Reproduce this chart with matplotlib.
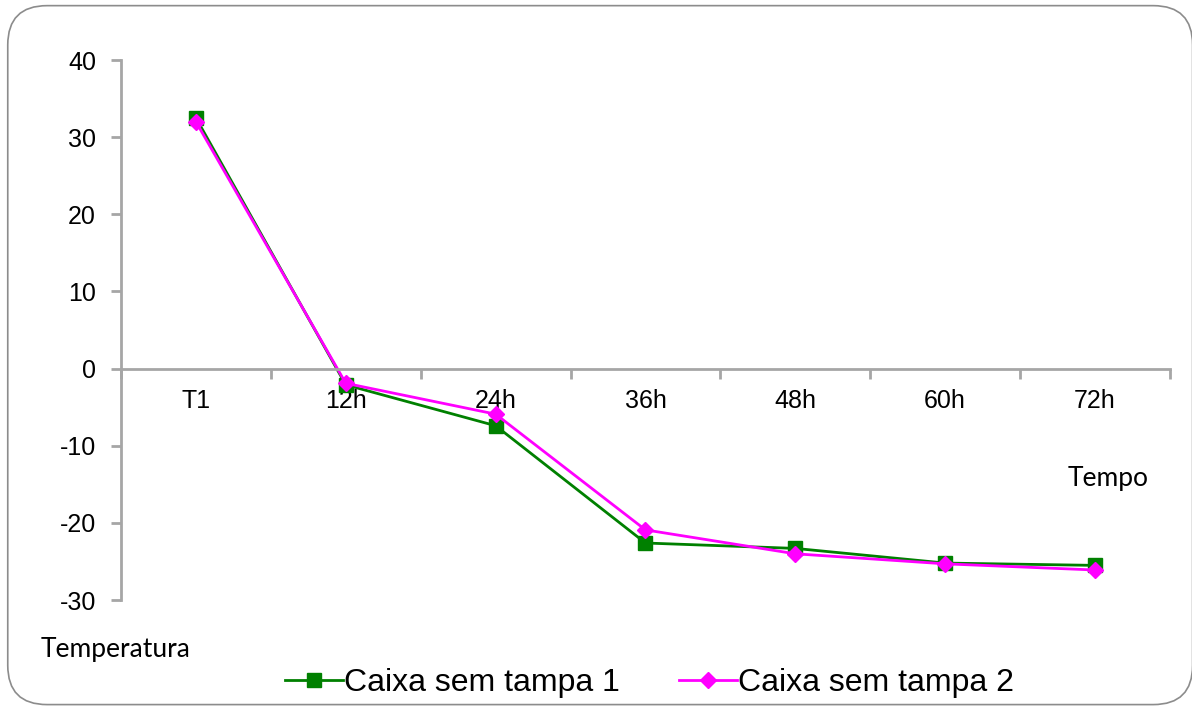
import matplotlib.pyplot as plt
from matplotlib.patches import FancyBboxPatch
from matplotlib.ticker import FixedLocator

plt.rcParams['axes.unicode_minus'] = False

categorias = ['T1', '12h', '24h', '36h', '48h', '60h', '72h']
caixa1 = [32.5, -2.1, -7.4, -22.6, -23.3, -25.2, -25.5]
caixa2 = [32.0, -1.9, -5.9, -20.9, -24.0, -25.3, -26.1]
yticks = [-30, -20, -10, 0, 10, 20, 30, 40]

cinza = '#a6a6a6'

fig = plt.figure(figsize=(11.92, 7.06), dpi=100)
ax = fig.add_axes([0.1015, 0.150, 0.88, 0.765])

x = list(range(len(categorias)))
ax.plot(x, caixa1, color='#008000', lw=2, marker='s', ms=10, label='Caixa sem tampa 1')
ax.plot(x, caixa2, color='#ff00ff', lw=2, marker='D', ms=8, label='Caixa sem tampa 2')

ax.set_xlim(-0.5, 6.5)
ax.set_ylim(-30, 40)
ax.set_yticks(yticks)
ax.set_xticks(x)
ax.set_xticklabels(categorias)
ax.xaxis.set_minor_locator(FixedLocator([i - 0.5 for i in range(len(categorias) + 1)]))

for s in ['top', 'right']:
    ax.spines[s].set_visible(False)
ax.spines['bottom'].set_position(('data', 0))
for s in ['left', 'bottom']:
    ax.spines[s].set_color(cinza)
    ax.spines[s].set_linewidth(2)

ax.tick_params(axis='y', length=7, width=2, color=cinza, labelsize=18, pad=11)
ax.tick_params(axis='x', which='major', length=0, labelsize=18, pad=15)
ax.tick_params(axis='x', which='minor', length=7, width=2, color=cinza)
for lbl in ax.get_xticklabels() + ax.get_yticklabels():
    lbl.set_fontfamily('Liberation Sans')

fig.text(0.896, 0.322, 'Tempo', fontsize=19, family='Lato', ha='left', va='center')
fig.text(0.034, 0.080, 'Temperatura', fontsize=19, family='Lato', ha='left', va='center')

fig.legend(loc='center', bbox_to_anchor=(0.545, 0.033), ncol=2, frameon=False,
           prop={'family': 'Liberation Sans', 'size': 23}, handlelength=1.8,
           handletextpad=0.05, columnspacing=1.85)

borda = FancyBboxPatch((0.0065, 0.002), 0.994, 0.990, boxstyle='round,pad=0,rounding_size=0.033',
                       transform=fig.transFigure, fill=False, edgecolor='#8c8c8c', lw=1.2,
                       mutation_aspect=1.69)
fig.patches.append(borda)

fig.savefig('out.png', dpi=100)
